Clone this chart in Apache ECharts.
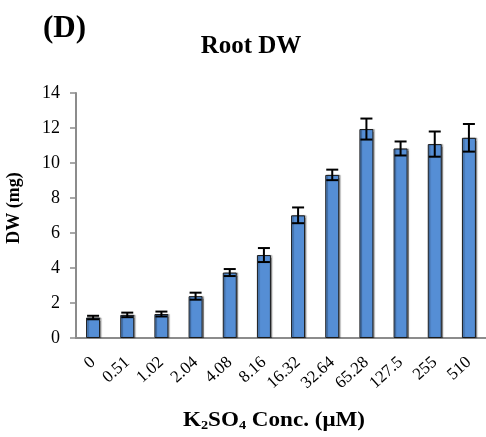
<!DOCTYPE html>
<html>
<head>
<meta charset="utf-8">
<script src="https://cdn.jsdelivr.net/npm/echarts@6/dist/echarts.min.js"></script>
<style>
  html, body { margin: 0; padding: 0; background: #fff; }
  #chart { width: 486px; height: 437px; }
</style>
</head>
<body>
<div id="chart"></div>
<script>
// K2SO4 concentrations (µM) along the x axis
const concentrations = ['0', '0.51', '1.02', '2.04', '4.08', '8.16', '16.32', '32.64', '65.28', '127.5', '255', '510'];
// Mean root dry weight (mg)
const rootDW = [1.17, 1.32, 1.37, 2.39, 3.74, 4.74, 7.01, 9.32, 11.94, 10.83, 11.08, 11.44];
// Standard error of each mean (mg)
const rootDWErr = [0.1, 0.13, 0.14, 0.2, 0.2, 0.4, 0.45, 0.3, 0.6, 0.4, 0.72, 0.79];
// Value axis ticks
const yTicks = { min: 0, max: 14, interval: 2 };

const serif = '"Liberation Serif", "Times New Roman", serif';
const chart = echarts.init(document.getElementById('chart'));

const errData = rootDW.map((v, i) => [i, v - rootDWErr[i], v + rootDWErr[i]]);

chart.setOption({
  animation: false,
  title: [
    { text: '(D)', left: 38, top: 8,
      textStyle: { fontFamily: serif, fontWeight: 'bold', fontSize: 31, color: '#000' } },
    { text: 'Root DW', left: 246, top: 29, textAlign: 'center',
      textStyle: { fontFamily: serif, fontWeight: 'bold', fontSize: 25, color: '#000' } }
  ],
  graphic: [
    {
      type: 'text',
      x: 14, y: 208,
      rotation: Math.PI / 2,
      style: {
        text: 'DW (mg)', align: 'center', verticalAlign: 'middle',
        fontFamily: serif, fontWeight: 'bold', fontSize: 18, fill: '#000'
      }
    },
    {
      type: 'text',
      x: 274, y: 421,
      scaleX: 1.1,
      style: {
        text: '{b|K}{s|2}{b|SO}{s|4}{b| Conc. (μM)}',
        align: 'center', verticalAlign: 'middle',
        rich: {
          b: { fontFamily: serif, fontWeight: 'bold', fontSize: 21, fill: '#000' },
          s: { fontFamily: serif, fontWeight: 'bold', fontSize: 13, fill: '#000', padding: [10, 0, 0, 0] }
        }
      }
    }
  ],
  grid: { left: 76, right: -6, top: 93, bottom: 99, containLabel: false },
  xAxis: {
    type: 'category',
    data: concentrations,
    axisLine: { lineStyle: { color: '#8c8c8c', width: 2 } },
    axisTick: { show: false },
    axisLabel: { rotate: 42, margin: 22, fontFamily: serif, fontSize: 17, color: '#000' }
  },
  yAxis: {
    type: 'value',
    min: yTicks.min, max: yTicks.max, interval: yTicks.interval,
    axisLine: { show: true, lineStyle: { color: '#8c8c8c', width: 2 } },
    axisTick: { show: true, length: 6, lineStyle: { color: '#8c8c8c', width: 1.5 } },
    splitLine: { show: false },
    axisLabel: { margin: 16, fontFamily: serif, fontSize: 18, color: '#000' }
  },
  series: [
    {
      type: 'bar',
      data: rootDW,
      barWidth: 14,
      itemStyle: {
        color: '#558ed5',
        borderColor: '#1a1a1a',
        borderWidth: 1,
        shadowColor: 'rgba(0,0,0,0.35)',
        shadowOffsetX: 1.5,
        shadowOffsetY: 0,
        shadowBlur: 1
      }
    },
    {
      type: 'custom',
      data: errData,
      z: 10,
      renderItem: function (params, api) {
        const x = api.value(0);
        const lo = api.coord([x, api.value(1)]);
        const hi = api.coord([x, api.value(2)]);
        const hw = 6;
        const style = { stroke: '#000', lineWidth: 2 };
        return {
          type: 'group',
          children: [
            { type: 'line', shape: { x1: hi[0], y1: hi[1], x2: lo[0], y2: lo[1] }, style: style },
            { type: 'line', shape: { x1: hi[0] - hw, y1: hi[1], x2: hi[0] + hw, y2: hi[1] }, style: style },
            { type: 'line', shape: { x1: lo[0] - hw, y1: lo[1], x2: lo[0] + hw, y2: lo[1] }, style: style }
          ]
        };
      }
    }
  ]
});
</script>
</body>
</html>
